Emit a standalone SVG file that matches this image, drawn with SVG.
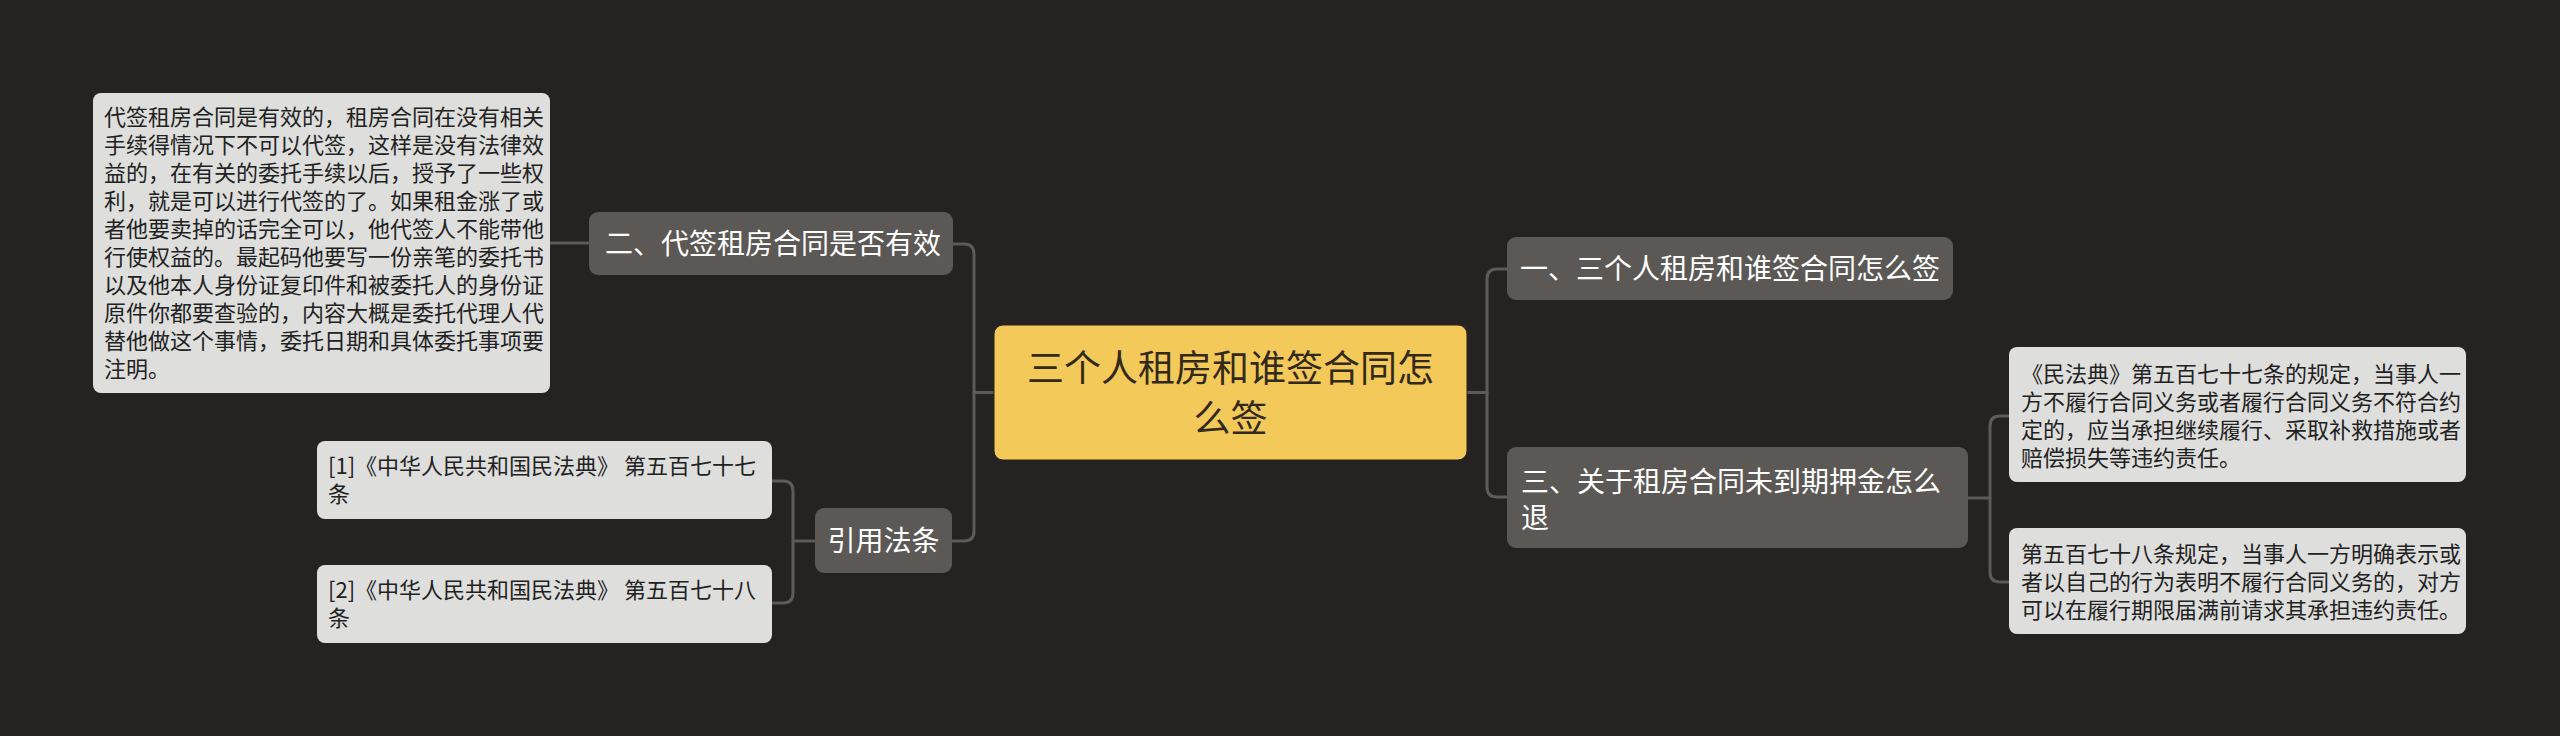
<svg xmlns="http://www.w3.org/2000/svg" width="2560" height="736" viewBox="0 0 2560 736">
<style>
.bg{fill:#242322}
.conn{fill:none;stroke:#5d5b59;stroke-width:3;stroke-linecap:round;stroke-linejoin:round}
.root{fill:#f3c95a;stroke:#2a2418;stroke-width:1}
.main{fill:#5b5855}
.leaf{fill:#dededd}
text{font-family:"Noto Sans CJK SC","Noto Sans",sans-serif}
.t-root{font-size:37px;fill:#33291a;text-anchor:middle}
.t-main{font-size:28px;fill:#ffffff}
.t-leaf{font-size:22px;fill:#222222}
</style>
<rect class="bg" x="0" y="0" width="2560" height="736"/>
<g id="connectors">
<path class="conn" d="M994 392.5 H974"/>
<path class="conn" d="M953 244 H964 Q974 244 974 254 V531 Q974 541 964 541 H952"/>
<path class="conn" d="M1467 392.5 H1487"/>
<path class="conn" d="M1507 269 H1497 Q1487 269 1487 279 V487 Q1487 497 1497 497 H1507"/>
<path class="conn" d="M589 243 H550"/>
<path class="conn" d="M815 541 H793"/>
<path class="conn" d="M772 481 H783 Q793 481 793 491 V593 Q793 603 783 603 H772"/>
<path class="conn" d="M1968 498 H1990"/>
<path class="conn" d="M2009 416 H2000 Q1990 416 1990 426 V572 Q1990 582 2000 582 H2009"/>
</g>
<g id="root">
<rect class="root" x="994" y="325" width="473" height="135" rx="9"/>
<text class="t-root" x="1230.5" y="382">三个人租房和谁签合同怎</text>
<text class="t-root" x="1230.5" y="432">么签</text>
</g>
<g id="n2">
<rect class="main" x="589" y="212" width="364" height="63" rx="9"/>
<text class="t-main" x="605" y="253.6">二、代签租房合同是否有效</text>
</g>
<g id="n2-leaf">
<rect class="leaf" x="93" y="93" width="457" height="300" rx="8"/>
<text class="t-leaf" x="104" y="125.4">代签租房合同是有效的，租房合同在没有相关</text>
<text class="t-leaf" x="104" y="153.4">手续得情况下不可以代签，这样是没有法律效</text>
<text class="t-leaf" x="104" y="181.4">益的，在有关的委托手续以后，授予了一些权</text>
<text class="t-leaf" x="104" y="209.4">利，就是可以进行代签的了。如果租金涨了或</text>
<text class="t-leaf" x="104" y="237.4">者他要卖掉的话完全可以，他代签人不能带他</text>
<text class="t-leaf" x="104" y="265.4">行使权益的。最起码他要写一份亲笔的委托书</text>
<text class="t-leaf" x="104" y="293.4">以及他本人身份证复印件和被委托人的身份证</text>
<text class="t-leaf" x="104" y="321.4">原件你都要查验的，内容大概是委托代理人代</text>
<text class="t-leaf" x="104" y="349.4">替他做这个事情，委托日期和具体委托事项要</text>
<text class="t-leaf" x="104" y="377.4">注明。</text>
</g>
<g id="n-cite">
<rect class="main" x="815" y="508" width="137" height="65" rx="9"/>
<text class="t-main" x="883.5" y="551" text-anchor="middle">引用法条</text>
</g>
<g id="cite1">
<rect class="leaf" x="317" y="441" width="455" height="78" rx="8"/>
<text class="t-leaf" x="328" y="474.4">[1]《中华人民共和国民法典》 第五百七十七</text>
<text class="t-leaf" x="328" y="502.4">条</text>
</g>
<g id="cite2">
<rect class="leaf" x="317" y="565" width="455" height="78" rx="8"/>
<text class="t-leaf" x="328" y="598.4">[2]《中华人民共和国民法典》 第五百七十八</text>
<text class="t-leaf" x="328" y="626.4">条</text>
</g>
<g id="n1">
<rect class="main" x="1507" y="237" width="446" height="63" rx="9"/>
<text class="t-main" x="1520" y="279">一、三个人租房和谁签合同怎么签</text>
</g>
<g id="n3">
<rect class="main" x="1507" y="447" width="461" height="101" rx="9"/>
<text class="t-main" x="1521" y="491.6">三、关于租房合同未到期押金怎么</text>
<text class="t-main" x="1521" y="527.6">退</text>
</g>
<g id="n3-leaf1">
<rect class="leaf" x="2009" y="347" width="457" height="135" rx="8"/>
<text class="t-leaf" x="2021" y="382.4">《民法典》第五百七十七条的规定，当事人一</text>
<text class="t-leaf" x="2021" y="410.4">方不履行合同义务或者履行合同义务不符合约</text>
<text class="t-leaf" x="2021" y="438.4">定的，应当承担继续履行、采取补救措施或者</text>
<text class="t-leaf" x="2021" y="466.4">赔偿损失等违约责任。</text>
</g>
<g id="n3-leaf2">
<rect class="leaf" x="2009" y="528" width="457" height="106" rx="8"/>
<text class="t-leaf" x="2021" y="562.4">第五百七十八条规定，当事人一方明确表示或</text>
<text class="t-leaf" x="2021" y="590.4">者以自己的行为表明不履行合同义务的，对方</text>
<text class="t-leaf" x="2021" y="618.4">可以在履行期限届满前请求其承担违约责任。</text>
</g>
</svg>
